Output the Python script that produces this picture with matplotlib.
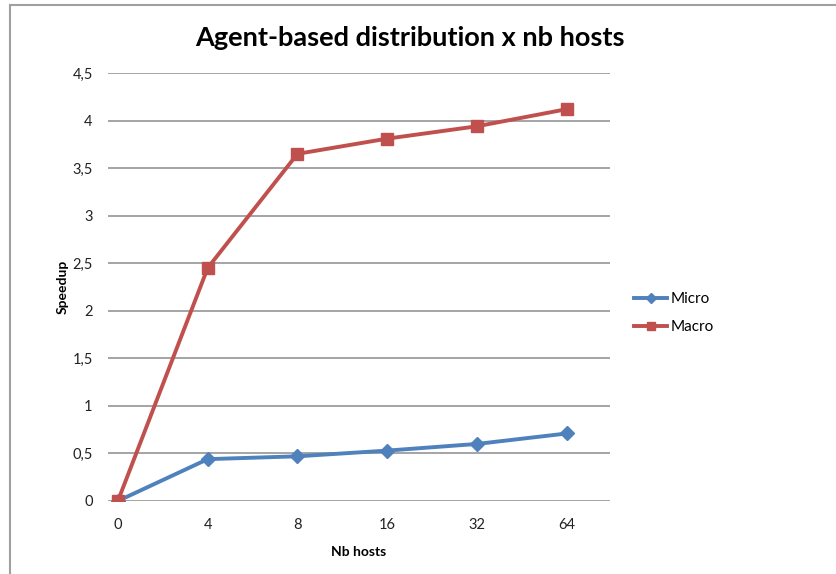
import matplotlib
matplotlib.use('Agg')
import matplotlib.pyplot as plt
from matplotlib.patches import Rectangle
from matplotlib.ticker import FuncFormatter

# data
hosts = ['0', '4', '8', '16', '32', '64']
micro = [0, 0.44, 0.47, 0.53, 0.60, 0.71]
macro = [0, 2.45, 3.65, 3.81, 3.94, 4.12]

plt.rcParams['font.family'] = ['Lato', 'DejaVu Sans']

fig = plt.figure(figsize=(8.36, 5.74), dpi=100)
ax = fig.add_axes([108/836, 1 - 501/574, (610-108)/836, (501-73)/574])

x = list(range(len(hosts)))
ax.plot(x, micro, color='#4F81BD', lw=2.8, marker='D', ms=7.5, label='Micro', zorder=3)
ax.plot(x, macro, color='#C0504D', lw=2.8, marker='s', ms=9, label='Macro', zorder=3)

ax.set_xlim(-0.11, 5.48)
ax.set_ylim(0, 4.5)
ax.set_xticks(x)
ax.set_xticklabels(hosts)
ax.set_yticks([i * 0.5 for i in range(10)])
ax.yaxis.set_major_formatter(FuncFormatter(lambda v, p: ('%g' % v).replace('.', ',')))
ax.tick_params(length=0, labelsize=10.5, colors='#222222')
ax.tick_params(axis='y', pad=11)
ax.tick_params(axis='x', pad=12)
ax.grid(axis='y', color='#8c8c8c', lw=1.1)
ax.set_axisbelow(True)
for s in ax.spines.values():
    s.set_visible(False)

ax.set_xlabel('Nb hosts', fontweight='bold', fontsize=10, labelpad=10)
ax.set_ylabel('Speedup', fontweight='bold', fontsize=10, labelpad=3)
fig.text(410/836, 1 - 38/574, 'Agent-based distribution x nb hosts', ha='center', va='center',
         fontsize=19.5, fontweight='bold')

ax.legend(loc='center left', bbox_to_anchor=(620/836, 1 - 313/574), bbox_transform=fig.transFigure,
          frameon=False, fontsize=11, handlelength=2.2, labelspacing=0.9, handletextpad=0.2,
          markerscale=0.7)

# outer chart border (top and left visible)
fig.add_artist(Rectangle((10/836, -0.1), 1.2, 1 - 5/574 + 0.1, transform=fig.transFigure,
                         fill=False, ec='#a0a0a0', lw=1.5))

fig.savefig('out.png', dpi=100)
